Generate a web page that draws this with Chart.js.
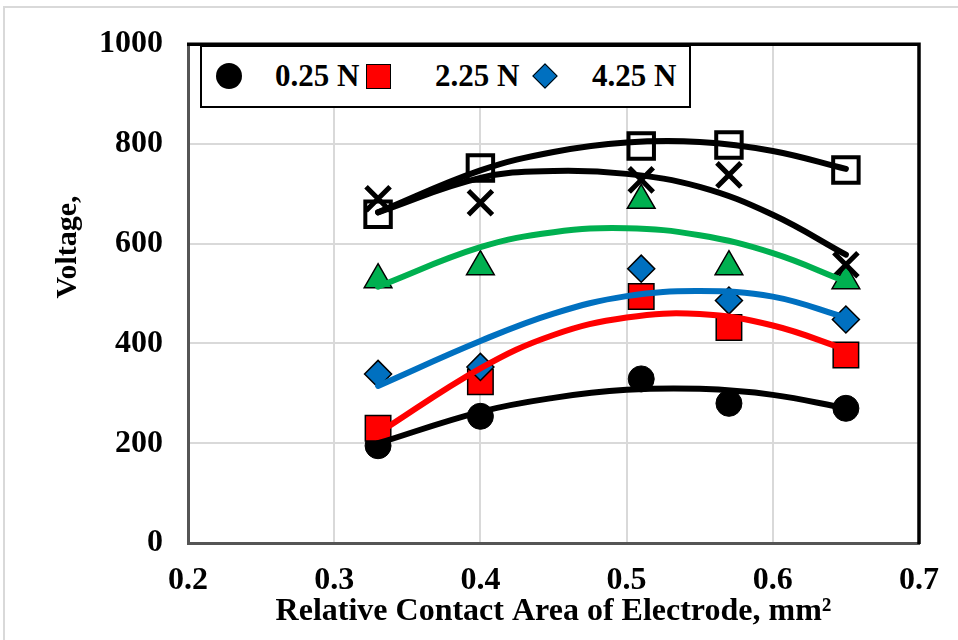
<!DOCTYPE html>
<html>
<head>
<meta charset="utf-8">
<script src="https://cdn.jsdelivr.net/npm/chart.js@4/dist/chart.umd.min.js"></script>
<style>
  html, body { margin: 0; padding: 0; background: #fff; }
  #wrap { position: relative; width: 958px; height: 640px; }
  #legend {
    position: absolute; left: 200px; top: 45px; width: 487px; height: 59px;
    border: 2px solid #000; background: #fff;
    font: bold 31px "Liberation Serif", "Times New Roman", serif; color: #000;
  }
  #legend span { position: absolute; top: 9px; line-height: 40px; white-space: nowrap; }
  #legend .mk { position: absolute; box-sizing: border-box; }
</style>
</head>
<body>
<div id="wrap">
  <canvas id="chart" width="958" height="640"></canvas>
  <div id="legend">
    <div class="mk" style="left:14px; top:16px; width:26px; height:26px; border-radius:50%; background:#000;"></div>
    <span style="left:73px;">0.25 N</span>
    <div class="mk" style="left:164px; top:17px; width:25px; height:25px; background:#ff0000; border:1.5px solid #000;"></div>
    <span style="left:233px;">2.25 N</span>
    <div class="mk" style="left:334px; top:20px; width:18px; height:18px; background:#0070c0; border:1.5px solid #000; transform:rotate(45deg);"></div>
    <span style="left:390px;">4.25 N</span>
  </div>
</div>
<script>
// contact area (mm^2) at each measurement
const areas = [0.33, 0.40, 0.51, 0.57, 0.65];

// measured voltages, one array per series
const v025 = [195, 254, 329, 280, 270];
const v225 = [230, 323, 494, 432, 377];
const v425 = [339, 353, 550, 486, 448];
const vGreen = [528, 554, 687, 554, 526];
const vCross = [690, 682, 728, 738, 558];
const vOpen = [659, 752, 796, 798, 748];

// trend curves
const trendX = [0.33, 0.40, 0.45, 0.50, 0.55, 0.60, 0.65];
const t025 = [200, 263, 291, 307, 309, 297, 270];
const t225 = [220, 350, 417, 452, 459, 436, 388];
const t425 = [315, 405, 460, 495, 505, 494, 452];
const tGreen = [514, 593, 623, 631, 617, 581, 524];
const tCross = [663, 732, 746, 740, 714, 658, 578];
const tOpen = [663, 747, 784, 803, 804, 786, 750];

const xTicks = [0.2, 0.3, 0.4, 0.5, 0.6, 0.7];
const yTicks = [0, 200, 400, 600, 800, 1000];
const yTitle = 'Voltage,';

const pts = (xs, ys) => xs.map((x, i) => ({ x, y: ys[i] }));

function markers(label, ys, style, radius, fill, stroke, bw, order) {
  return {
    label,
    data: pts(areas, ys),
    showLine: false,
    pointStyle: style,
    pointRadius: radius,
    pointBackgroundColor: fill,
    pointBorderColor: stroke,
    pointBorderWidth: bw,
    order
  };
}

function trend(ys, color, order) {
  return {
    label: '',
    data: pts(trendX, ys),
    showLine: true,
    pointRadius: 0,
    borderColor: color,
    borderWidth: 6,
    borderCapStyle: 'round',
    tension: 0.4,
    fill: false,
    order
  };
}

const serif = '"Liberation Serif", "Times New Roman", serif';

// top/right frame of the plot, faint outer frame, and the y title (sits above centre)
const framePlugin = {
  id: 'frame',
  beforeDraw(chart) {
    const c = chart.ctx;
    c.save();
    c.strokeStyle = '#d9d9d9';
    c.lineWidth = 2;
    c.beginPath();
    c.moveTo(4, 700); c.lineTo(4, 7); c.lineTo(1000, 7);
    c.stroke();
    c.restore();
  },
  afterDraw(chart) {
    const a = chart.chartArea, c = chart.ctx;
    c.save();
    c.strokeStyle = '#000';
    c.lineWidth = 3.5;
    c.beginPath();
    c.moveTo(a.left - 1, a.top);
    c.lineTo(a.right, a.top);
    c.lineTo(a.right, a.bottom + 1);
    c.stroke();

    c.translate(68, 247);
    c.rotate(-Math.PI / 2);
    c.fillStyle = '#000';
    c.font = 'bold 30px ' + serif;
    c.textAlign = 'center';
    c.textBaseline = 'middle';
    c.fillText(yTitle, 0, 0);
    c.restore();
  }
};

new Chart(document.getElementById('chart'), {
  type: 'scatter',
  data: {
    datasets: [
      trend(t025, '#000000', 5),
      trend(t225, '#ff0000', 4),
      trend(t425, '#0070c0', 3),
      trend(tGreen, '#00b050', 2),
      trend(tCross, '#000000', 1),
      trend(tOpen, '#000000', 0),
      markers('0.25 N', v025, 'circle', 13, '#000', '#000', 1, 16),
      markers('2.25 N', v225, 'rect', 18, '#ff0000', '#000', 1.5, 15),
      markers('4.25 N', v425, 'rectRot', 13.5, '#0070c0', '#000', 1.5, 14),
      markers('', vGreen, 'triangle', 16, '#00b050', '#000', 1.5, 13),
      markers('', vCross, 'crossRot', 17, '#000', '#000', 5, 12),
      markers('', vOpen, 'rect', 18, 'rgba(0,0,0,0)', '#000', 4, 11)
    ]
  },
  options: {
    responsive: false,
    animation: false,
    layout: { padding: { top: 39, right: 35, left: 0, bottom: 0 }, autoPadding: false },
    plugins: {
      legend: { display: false },
      tooltip: { enabled: false }
    },
    scales: {
      x: {
        type: 'linear',
        min: 0.2,
        max: 0.7,
        afterFit: s => { s.height = 97; },
        afterBuildTicks: s => { s.ticks = xTicks.map(v => ({ value: v })); },
        ticks: {
          padding: 19,
          color: '#000',
          font: { family: serif, size: 32, weight: 'bold' },
          callback: v => v.toFixed(1)
        },
        grid: { color: '#d9d9d9', lineWidth: 2, drawTicks: false },
        border: { color: '#555', width: 3 },
        title: {
          display: true,
          text: 'Relative Contact Area of Electrode, mm\u00b2',
          color: '#000',
          font: { family: serif, size: 32, weight: 'bold' },
          padding: { top: 0, bottom: 9 }
        }
      },
      y: {
        min: 0,
        max: 1000,
        afterFit: s => { s.width = 188; },
        afterBuildTicks: s => { s.ticks = yTicks.map(v => ({ value: v })); },
        ticks: {
          padding: 25,
          color: '#000',
          font: { family: serif, size: 32, weight: 'bold' },
          callback: v => String(v)
        },
        grid: { color: '#d9d9d9', lineWidth: 2, drawTicks: false },
        border: { color: '#555', width: 3 }
      }
    }
  },
  plugins: [framePlugin]
});
</script>
</body>
</html>
